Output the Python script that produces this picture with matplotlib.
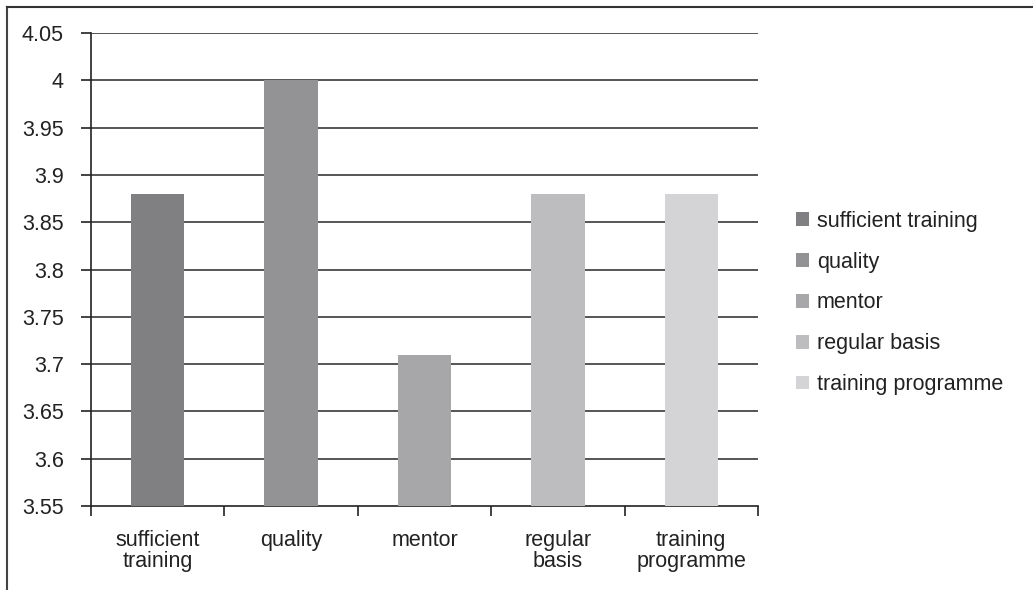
import matplotlib.pyplot as plt
from matplotlib.lines import Line2D
from matplotlib.patches import Patch

plt.rcParams['font.family'] = ['Liberation Sans', 'DejaVu Sans']

categories = ["sufficient training", "quality", "mentor", "regular basis", "training programme"]
tick_labels = ["sufficient\ntraining", "quality", "mentor", "regular\nbasis", "training\nprogramme"]
values = [3.88, 4.00, 3.71, 3.88, 3.88]
colors = ["#808083", "#939396", "#a7a7a9", "#bdbdbf", "#d4d4d6"]
y_ticks = [3.55, 3.6, 3.65, 3.7, 3.75, 3.8, 3.85, 3.9, 3.95, 4.0, 4.05]
y_tick_labels = ["3.55", "3.6", "3.65", "3.7", "3.75", "3.8", "3.85", "3.9", "3.95", "4", "4.05"]

fig = plt.figure(figsize=(10.33, 5.9), dpi=100)
ax = fig.add_axes([91 / 1033, 1 - 506 / 590, (758 - 91) / 1033, (506 - 33) / 590])

pos = list(range(len(values)))
ax.bar(pos, [v - 3.55 for v in values], bottom=3.55, width=0.4, color=colors, zorder=3)

ax.set_xlim(-0.5, len(values) - 0.5)
ax.set_ylim(3.55, 4.05)
ax.set_yticks(y_ticks)
ax.set_yticklabels(y_tick_labels)
for y in y_ticks[1:]:
    ax.axhline(y, color="#555555", lw=1.4, zorder=1)

# category borders as major ticks, labels centred on minor ticks
ax.set_xticks([p - 0.5 for p in pos] + [len(values) - 0.5])
ax.set_xticklabels([])
ax.set_xticks(pos, minor=True)
ax.set_xticklabels(tick_labels, minor=True, fontsize=15.5, color="#222222", linespacing=1.0)
ax.tick_params(axis="x", which="minor", length=0, pad=17)
ax.tick_params(axis="x", which="major", length=7, width=1.2, color="#222222")
ax.tick_params(axis="y", length=7, width=1.2, color="#222222", labelsize=15.5,
               labelcolor="#222222", pad=12.5)

for s in ["top", "right"]:
    ax.spines[s].set_visible(False)
for s in ["left", "bottom"]:
    ax.spines[s].set_color("#222222")
    ax.spines[s].set_linewidth(1.2)

handles = [Patch(facecolor=c, edgecolor="none") for c in colors]
fig.legend(handles, categories, loc="center left", bbox_to_anchor=(777 / 1033, 1 - 303 / 590),
           frameon=False, fontsize=15.5, handlelength=0.6, handleheight=0.6,
           handletextpad=0.35, labelspacing=0.92, labelcolor="#222222")

# outer frame
fig.add_artist(Line2D([6.5 / 1033, 6.5 / 1033], [0, 1 - 7 / 590], color="#444444", lw=1.5))
fig.add_artist(Line2D([6.5 / 1033, 1], [1 - 7 / 590, 1 - 7 / 590], color="#333333", lw=1.5))

fig.savefig("out.png", dpi=100)
